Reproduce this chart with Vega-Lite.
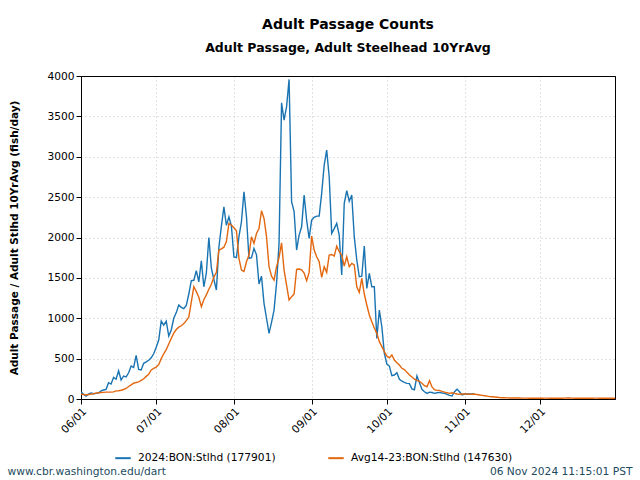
{
  "$schema": "https://vega.github.io/schema/vega-lite/v6.json",
  "width": 534,
  "height": 323,
  "autosize": "none",
  "padding": {"left": 81, "top": 76, "right": 25, "bottom": 81},
  "background": "white",
  "title": {
    "text": "Adult Passage Counts",
    "subtitle": "Adult Passage, Adult Steelhead 10YrAvg",
    "font": "DejaVu Sans",
    "fontSize": 14,
    "fontWeight": "bold",
    "color": "black",
    "subtitleFont": "DejaVu Sans",
    "subtitleFontSize": 12.5,
    "subtitleFontWeight": "bold",
    "subtitleColor": "black",
    "subtitlePadding": 10,
    "anchor": "middle",
    "frame": "group",
    "offset": 16
  },
  "data": {
    "format": {"parse": {"date": "utc:'%Y-%m-%d'"}},
    "values": [
      {"date": "2024-06-01", "cur": 90, "avg": 58},
      {"date": "2024-06-02", "cur": 60, "avg": 55},
      {"date": "2024-06-03", "cur": 37, "avg": 50},
      {"date": "2024-06-04", "cur": 60, "avg": 55},
      {"date": "2024-06-05", "cur": 75, "avg": 60},
      {"date": "2024-06-06", "cur": 65, "avg": 65},
      {"date": "2024-06-07", "cur": 70, "avg": 72},
      {"date": "2024-06-08", "cur": 75, "avg": 78},
      {"date": "2024-06-09", "cur": 100, "avg": 80},
      {"date": "2024-06-10", "cur": 111, "avg": 82},
      {"date": "2024-06-11", "cur": 120, "avg": 85},
      {"date": "2024-06-12", "cur": 202, "avg": 85},
      {"date": "2024-06-13", "cur": 185, "avg": 85},
      {"date": "2024-06-14", "cur": 268, "avg": 88},
      {"date": "2024-06-15", "cur": 245, "avg": 100},
      {"date": "2024-06-16", "cur": 350, "avg": 103},
      {"date": "2024-06-17", "cur": 235, "avg": 108},
      {"date": "2024-06-18", "cur": 285, "avg": 118},
      {"date": "2024-06-19", "cur": 275, "avg": 130},
      {"date": "2024-06-20", "cur": 325, "avg": 155},
      {"date": "2024-06-21", "cur": 408, "avg": 175},
      {"date": "2024-06-22", "cur": 390, "avg": 195},
      {"date": "2024-06-23", "cur": 540, "avg": 205},
      {"date": "2024-06-24", "cur": 367, "avg": 212},
      {"date": "2024-06-25", "cur": 360, "avg": 230},
      {"date": "2024-06-26", "cur": 442, "avg": 250},
      {"date": "2024-06-27", "cur": 460, "avg": 280},
      {"date": "2024-06-28", "cur": 480, "avg": 305},
      {"date": "2024-06-29", "cur": 510, "avg": 360},
      {"date": "2024-06-30", "cur": 560, "avg": 380},
      {"date": "2024-07-01", "cur": 640, "avg": 395},
      {"date": "2024-07-02", "cur": 730, "avg": 425},
      {"date": "2024-07-03", "cur": 965, "avg": 500},
      {"date": "2024-07-04", "cur": 915, "avg": 560},
      {"date": "2024-07-05", "cur": 965, "avg": 610},
      {"date": "2024-07-06", "cur": 780, "avg": 680},
      {"date": "2024-07-07", "cur": 855, "avg": 750},
      {"date": "2024-07-08", "cur": 1000, "avg": 815},
      {"date": "2024-07-09", "cur": 1070, "avg": 860},
      {"date": "2024-07-10", "cur": 1165, "avg": 890},
      {"date": "2024-07-11", "cur": 1135, "avg": 907},
      {"date": "2024-07-12", "cur": 1120, "avg": 935},
      {"date": "2024-07-13", "cur": 1160, "avg": 970},
      {"date": "2024-07-14", "cur": 1300, "avg": 1015},
      {"date": "2024-07-15", "cur": 1465, "avg": 1200},
      {"date": "2024-07-16", "cur": 1470, "avg": 1390},
      {"date": "2024-07-17", "cur": 1590, "avg": 1330},
      {"date": "2024-07-18", "cur": 1450, "avg": 1260},
      {"date": "2024-07-19", "cur": 1710, "avg": 1143},
      {"date": "2024-07-20", "cur": 1390, "avg": 1230},
      {"date": "2024-07-21", "cur": 1560, "avg": 1290},
      {"date": "2024-07-22", "cur": 2000, "avg": 1360},
      {"date": "2024-07-23", "cur": 1620, "avg": 1420},
      {"date": "2024-07-24", "cur": 1480, "avg": 1510},
      {"date": "2024-07-25", "cur": 1350, "avg": 1570},
      {"date": "2024-07-26", "cur": 1880, "avg": 1845},
      {"date": "2024-07-27", "cur": 2140, "avg": 1860},
      {"date": "2024-07-28", "cur": 2380, "avg": 1880},
      {"date": "2024-07-29", "cur": 2150, "avg": 1950},
      {"date": "2024-07-30", "cur": 2257, "avg": 2175},
      {"date": "2024-07-31", "cur": 2140, "avg": 2155},
      {"date": "2024-08-01", "cur": 1760, "avg": 2120},
      {"date": "2024-08-02", "cur": 1750, "avg": 2084},
      {"date": "2024-08-03", "cur": 2010, "avg": 1742},
      {"date": "2024-08-04", "cur": 2195, "avg": 1597},
      {"date": "2024-08-05", "cur": 2566, "avg": 1580},
      {"date": "2024-08-06", "cur": 2260, "avg": 1700},
      {"date": "2024-08-07", "cur": 1742, "avg": 1782},
      {"date": "2024-08-08", "cur": 1750, "avg": 2010},
      {"date": "2024-08-09", "cur": 1865, "avg": 1926},
      {"date": "2024-08-10", "cur": 1785, "avg": 2050},
      {"date": "2024-08-11", "cur": 1424, "avg": 2112},
      {"date": "2024-08-12", "cur": 1522, "avg": 2331},
      {"date": "2024-08-13", "cur": 1185, "avg": 2236},
      {"date": "2024-08-14", "cur": 1000, "avg": 2010},
      {"date": "2024-08-15", "cur": 813, "avg": 1638},
      {"date": "2024-08-16", "cur": 950, "avg": 1520},
      {"date": "2024-08-17", "cur": 1100, "avg": 1473},
      {"date": "2024-08-18", "cur": 1432, "avg": 1638},
      {"date": "2024-08-19", "cur": 1928, "avg": 1750},
      {"date": "2024-08-20", "cur": 3668, "avg": 1935},
      {"date": "2024-08-21", "cur": 3454, "avg": 1597},
      {"date": "2024-08-22", "cur": 3620, "avg": 1411},
      {"date": "2024-08-23", "cur": 3958, "avg": 1226},
      {"date": "2024-08-24", "cur": 2443, "avg": 1267},
      {"date": "2024-08-25", "cur": 2320, "avg": 1300},
      {"date": "2024-08-26", "cur": 1845, "avg": 1605},
      {"date": "2024-08-27", "cur": 2030, "avg": 1610},
      {"date": "2024-08-28", "cur": 2133, "avg": 1600},
      {"date": "2024-08-29", "cur": 2525, "avg": 1560},
      {"date": "2024-08-30", "cur": 2216, "avg": 1465},
      {"date": "2024-08-31", "cur": 1989, "avg": 1568},
      {"date": "2024-09-01", "cur": 2216, "avg": 2018},
      {"date": "2024-09-02", "cur": 2250, "avg": 1845},
      {"date": "2024-09-03", "cur": 2265, "avg": 1762},
      {"date": "2024-09-04", "cur": 2265, "avg": 1700},
      {"date": "2024-09-05", "cur": 2546, "avg": 1506},
      {"date": "2024-09-06", "cur": 2897, "avg": 1638},
      {"date": "2024-09-07", "cur": 3083, "avg": 1568},
      {"date": "2024-09-08", "cur": 2752, "avg": 1783},
      {"date": "2024-09-09", "cur": 2051, "avg": 1790},
      {"date": "2024-09-10", "cur": 2110, "avg": 1770},
      {"date": "2024-09-11", "cur": 2175, "avg": 1894},
      {"date": "2024-09-12", "cur": 2030, "avg": 1824},
      {"date": "2024-09-13", "cur": 1535, "avg": 1783},
      {"date": "2024-09-14", "cur": 2423, "avg": 1646},
      {"date": "2024-09-15", "cur": 2579, "avg": 1762},
      {"date": "2024-09-16", "cur": 2450, "avg": 1638},
      {"date": "2024-09-17", "cur": 2525, "avg": 1680},
      {"date": "2024-09-18", "cur": 2010, "avg": 1660},
      {"date": "2024-09-19", "cur": 1721, "avg": 1390},
      {"date": "2024-09-20", "cur": 1514, "avg": 1320},
      {"date": "2024-09-21", "cur": 1520, "avg": 1494},
      {"date": "2024-09-22", "cur": 1894, "avg": 1300},
      {"date": "2024-09-23", "cur": 1370, "avg": 1164},
      {"date": "2024-09-24", "cur": 1556, "avg": 1040},
      {"date": "2024-09-25", "cur": 1390, "avg": 957},
      {"date": "2024-09-26", "cur": 1390, "avg": 880},
      {"date": "2024-09-27", "cur": 751, "avg": 813},
      {"date": "2024-09-28", "cur": 1100, "avg": 710},
      {"date": "2024-09-29", "cur": 895, "avg": 648},
      {"date": "2024-09-30", "cur": 565, "avg": 586},
      {"date": "2024-10-01", "cur": 433, "avg": 530},
      {"date": "2024-10-02", "cur": 408, "avg": 510},
      {"date": "2024-10-03", "cur": 289, "avg": 545},
      {"date": "2024-10-04", "cur": 297, "avg": 483},
      {"date": "2024-10-05", "cur": 326, "avg": 450},
      {"date": "2024-10-06", "cur": 244, "avg": 420},
      {"date": "2024-10-07", "cur": 220, "avg": 380},
      {"date": "2024-10-08", "cur": 205, "avg": 365},
      {"date": "2024-10-09", "cur": 194, "avg": 330},
      {"date": "2024-10-10", "cur": 190, "avg": 297},
      {"date": "2024-10-11", "cur": 125, "avg": 272},
      {"date": "2024-10-12", "cur": 115, "avg": 245},
      {"date": "2024-10-13", "cur": 285, "avg": 230},
      {"date": "2024-10-14", "cur": 200, "avg": 219},
      {"date": "2024-10-15", "cur": 120, "avg": 195},
      {"date": "2024-10-16", "cur": 90, "avg": 165},
      {"date": "2024-10-17", "cur": 70, "avg": 152},
      {"date": "2024-10-18", "cur": 85, "avg": 227},
      {"date": "2024-10-19", "cur": 80, "avg": 150},
      {"date": "2024-10-20", "cur": 70, "avg": 115},
      {"date": "2024-10-21", "cur": 78, "avg": 107},
      {"date": "2024-10-22", "cur": 82, "avg": 107},
      {"date": "2024-10-23", "cur": 75, "avg": 95},
      {"date": "2024-10-24", "cur": 70, "avg": 85},
      {"date": "2024-10-25", "cur": 58, "avg": 78},
      {"date": "2024-10-26", "cur": 45, "avg": 70},
      {"date": "2024-10-27", "cur": 37, "avg": 78},
      {"date": "2024-10-28", "cur": 90, "avg": 70},
      {"date": "2024-10-29", "cur": 120, "avg": 62},
      {"date": "2024-10-30", "cur": 90, "avg": 58},
      {"date": "2024-10-31", "cur": 50, "avg": 62},
      {"date": "2024-11-01", "cur": 62, "avg": 62},
      {"date": "2024-11-02", "cur": 62, "avg": 62},
      {"date": "2024-11-03", "cur": 62, "avg": 60},
      {"date": "2024-11-04", "cur": 62, "avg": 58},
      {"date": "2024-11-05", "cur": 62, "avg": 58},
      {"date": "2024-11-06", "avg": 55},
      {"date": "2024-11-07", "avg": 50},
      {"date": "2024-11-08", "avg": 45},
      {"date": "2024-11-09", "avg": 40},
      {"date": "2024-11-10", "avg": 35},
      {"date": "2024-11-11", "avg": 30},
      {"date": "2024-11-12", "avg": 27},
      {"date": "2024-11-13", "avg": 24},
      {"date": "2024-11-14", "avg": 21},
      {"date": "2024-11-15", "avg": 18},
      {"date": "2024-11-16", "avg": 16},
      {"date": "2024-11-17", "avg": 15},
      {"date": "2024-11-18", "avg": 14},
      {"date": "2024-11-19", "avg": 13},
      {"date": "2024-11-20", "avg": 13},
      {"date": "2024-11-21", "avg": 12},
      {"date": "2024-11-22", "avg": 12},
      {"date": "2024-11-23", "avg": 12},
      {"date": "2024-11-24", "avg": 11},
      {"date": "2024-11-25", "avg": 11},
      {"date": "2024-11-26", "avg": 11},
      {"date": "2024-11-27", "avg": 10},
      {"date": "2024-11-28", "avg": 10},
      {"date": "2024-11-29", "avg": 10},
      {"date": "2024-11-30", "avg": 10},
      {"date": "2024-12-01", "avg": 10},
      {"date": "2024-12-02", "avg": 10},
      {"date": "2024-12-03", "avg": 11},
      {"date": "2024-12-04", "avg": 11},
      {"date": "2024-12-05", "avg": 10},
      {"date": "2024-12-06", "avg": 10},
      {"date": "2024-12-07", "avg": 9},
      {"date": "2024-12-08", "avg": 9},
      {"date": "2024-12-09", "avg": 10},
      {"date": "2024-12-10", "avg": 10},
      {"date": "2024-12-11", "avg": 11},
      {"date": "2024-12-12", "avg": 12},
      {"date": "2024-12-13", "avg": 12},
      {"date": "2024-12-14", "avg": 11},
      {"date": "2024-12-15", "avg": 10},
      {"date": "2024-12-16", "avg": 10},
      {"date": "2024-12-17", "avg": 9},
      {"date": "2024-12-18", "avg": 9},
      {"date": "2024-12-19", "avg": 9},
      {"date": "2024-12-20", "avg": 10},
      {"date": "2024-12-21", "avg": 10},
      {"date": "2024-12-22", "avg": 10},
      {"date": "2024-12-23", "avg": 11},
      {"date": "2024-12-24", "avg": 11},
      {"date": "2024-12-25", "avg": 10},
      {"date": "2024-12-26", "avg": 10},
      {"date": "2024-12-27", "avg": 10},
      {"date": "2024-12-28", "avg": 9},
      {"date": "2024-12-29", "avg": 9},
      {"date": "2024-12-30", "avg": 10},
      {"date": "2024-12-31", "avg": 10}
    ]
  },
  "layer": [
    {
      "mark": {"type": "line", "strokeWidth": 1.4, "clip": true},
      "encoding": {
        "x": {
          "field": "date",
          "type": "temporal",
          "scale": {"type": "utc", "domain": [{"year": 2024, "month": 6, "date": 1, "utc": true}, {"year": 2024, "month": 12, "date": 31, "utc": true}]},
          "axis": {
            "values": [
              {"year": 2024, "month": 6, "date": 1, "utc": true},
              {"year": 2024, "month": 7, "date": 1, "utc": true},
              {"year": 2024, "month": 8, "date": 1, "utc": true},
              {"year": 2024, "month": 9, "date": 1, "utc": true},
              {"year": 2024, "month": 10, "date": 1, "utc": true},
              {"year": 2024, "month": 11, "date": 1, "utc": true},
              {"year": 2024, "month": 12, "date": 1, "utc": true}
            ],
            "format": "%m/%d",
            "labelAngle": -45,
            "grid": true,
            "title": "www.cbr.washington.edu/dart",
            "titleFontSize": 10.67,
            "titleFontWeight": "normal",
            "titleColor": "#1d4b5e",
            "titleAlign": "left",
            "titleBaseline": "alphabetic",
            "titleX": -74,
            "titleY": 75
          }
        },
        "y": {
          "field": "cur",
          "type": "quantitative",
          "scale": {"domain": [0, 4000], "nice": false},
          "axis": {
            "values": [0, 500, 1000, 1500, 2000, 2500, 3000, 3500, 4000],
            "format": "d",
            "grid": true,
            "title": "Adult Passage / Adult Stlhd 10YrAvg (fish/day)",
            "titleFontSize": 10.5,
            "titleFontWeight": "bold",
            "titlePadding": 27
          }
        },
        "color": {
          "datum": "2024:BON:Stlhd (177901)",
          "type": "nominal",
          "scale": {"domain": ["2024:BON:Stlhd (177901)", "Avg14-23:BON:Stlhd (147630)"], "range": ["#1a74b2", "#e2670f"]},
          "legend": {
            "orient": "none",
            "legendX": 33,
            "legendY": 373,
            "direction": "horizontal",
            "title": null,
            "symbolType": "stroke",
            "symbolSize": 240,
            "symbolStrokeWidth": 2,
            "labelFontSize": 10.67,
            "labelColor": "black",
            "labelOffset": 6,
            "labelLimit": 400,
            "columnPadding": 48,
            "padding": 0
          }
        }
      }
    },
    {
      "mark": {"type": "line", "strokeWidth": 1.4, "clip": true},
      "encoding": {
        "x": {
          "field": "date",
          "type": "temporal",
          "scale": {"type": "utc", "domain": [{"year": 2024, "month": 6, "date": 1, "utc": true}, {"year": 2024, "month": 12, "date": 31, "utc": true}]},
          "axis": {
            "orient": "top",
            "labels": false,
            "ticks": false,
            "domain": true,
            "domainColor": "black",
            "grid": false,
            "title": "06 Nov 2024 11:15:01 PST",
            "titleFontSize": 10.67,
            "titleFontWeight": "normal",
            "titleColor": "#1d4b5e",
            "titleAlign": "right",
            "titleBaseline": "alphabetic",
            "titleX": 551,
            "titleY": 398
          }
        },
        "y": {
          "field": "avg",
          "type": "quantitative",
          "scale": {"domain": [0, 4000], "nice": false},
          "axis": {"title": "Adult Passage / Adult Stlhd 10YrAvg (fish/day)"}
        },
        "color": {"datum": "Avg14-23:BON:Stlhd (147630)", "type": "nominal"}
      }
    }
  ],
  "resolve": {"axis": {"x": "independent"}},
  "config": {
    "font": "DejaVu Sans",
    "view": {"stroke": "black", "strokeWidth": 1},
    "axis": {
      "labelFont": "DejaVu Sans",
      "labelFontSize": 10.67,
      "labelColor": "black",
      "tickColor": "black",
      "tickSize": 5,
      "domainColor": "black",
      "gridColor": "#c4c4c4",
      "gridDash": [1, 3],
      "titleColor": "black",
      "titleFont": "DejaVu Sans"
    }
  }
}
